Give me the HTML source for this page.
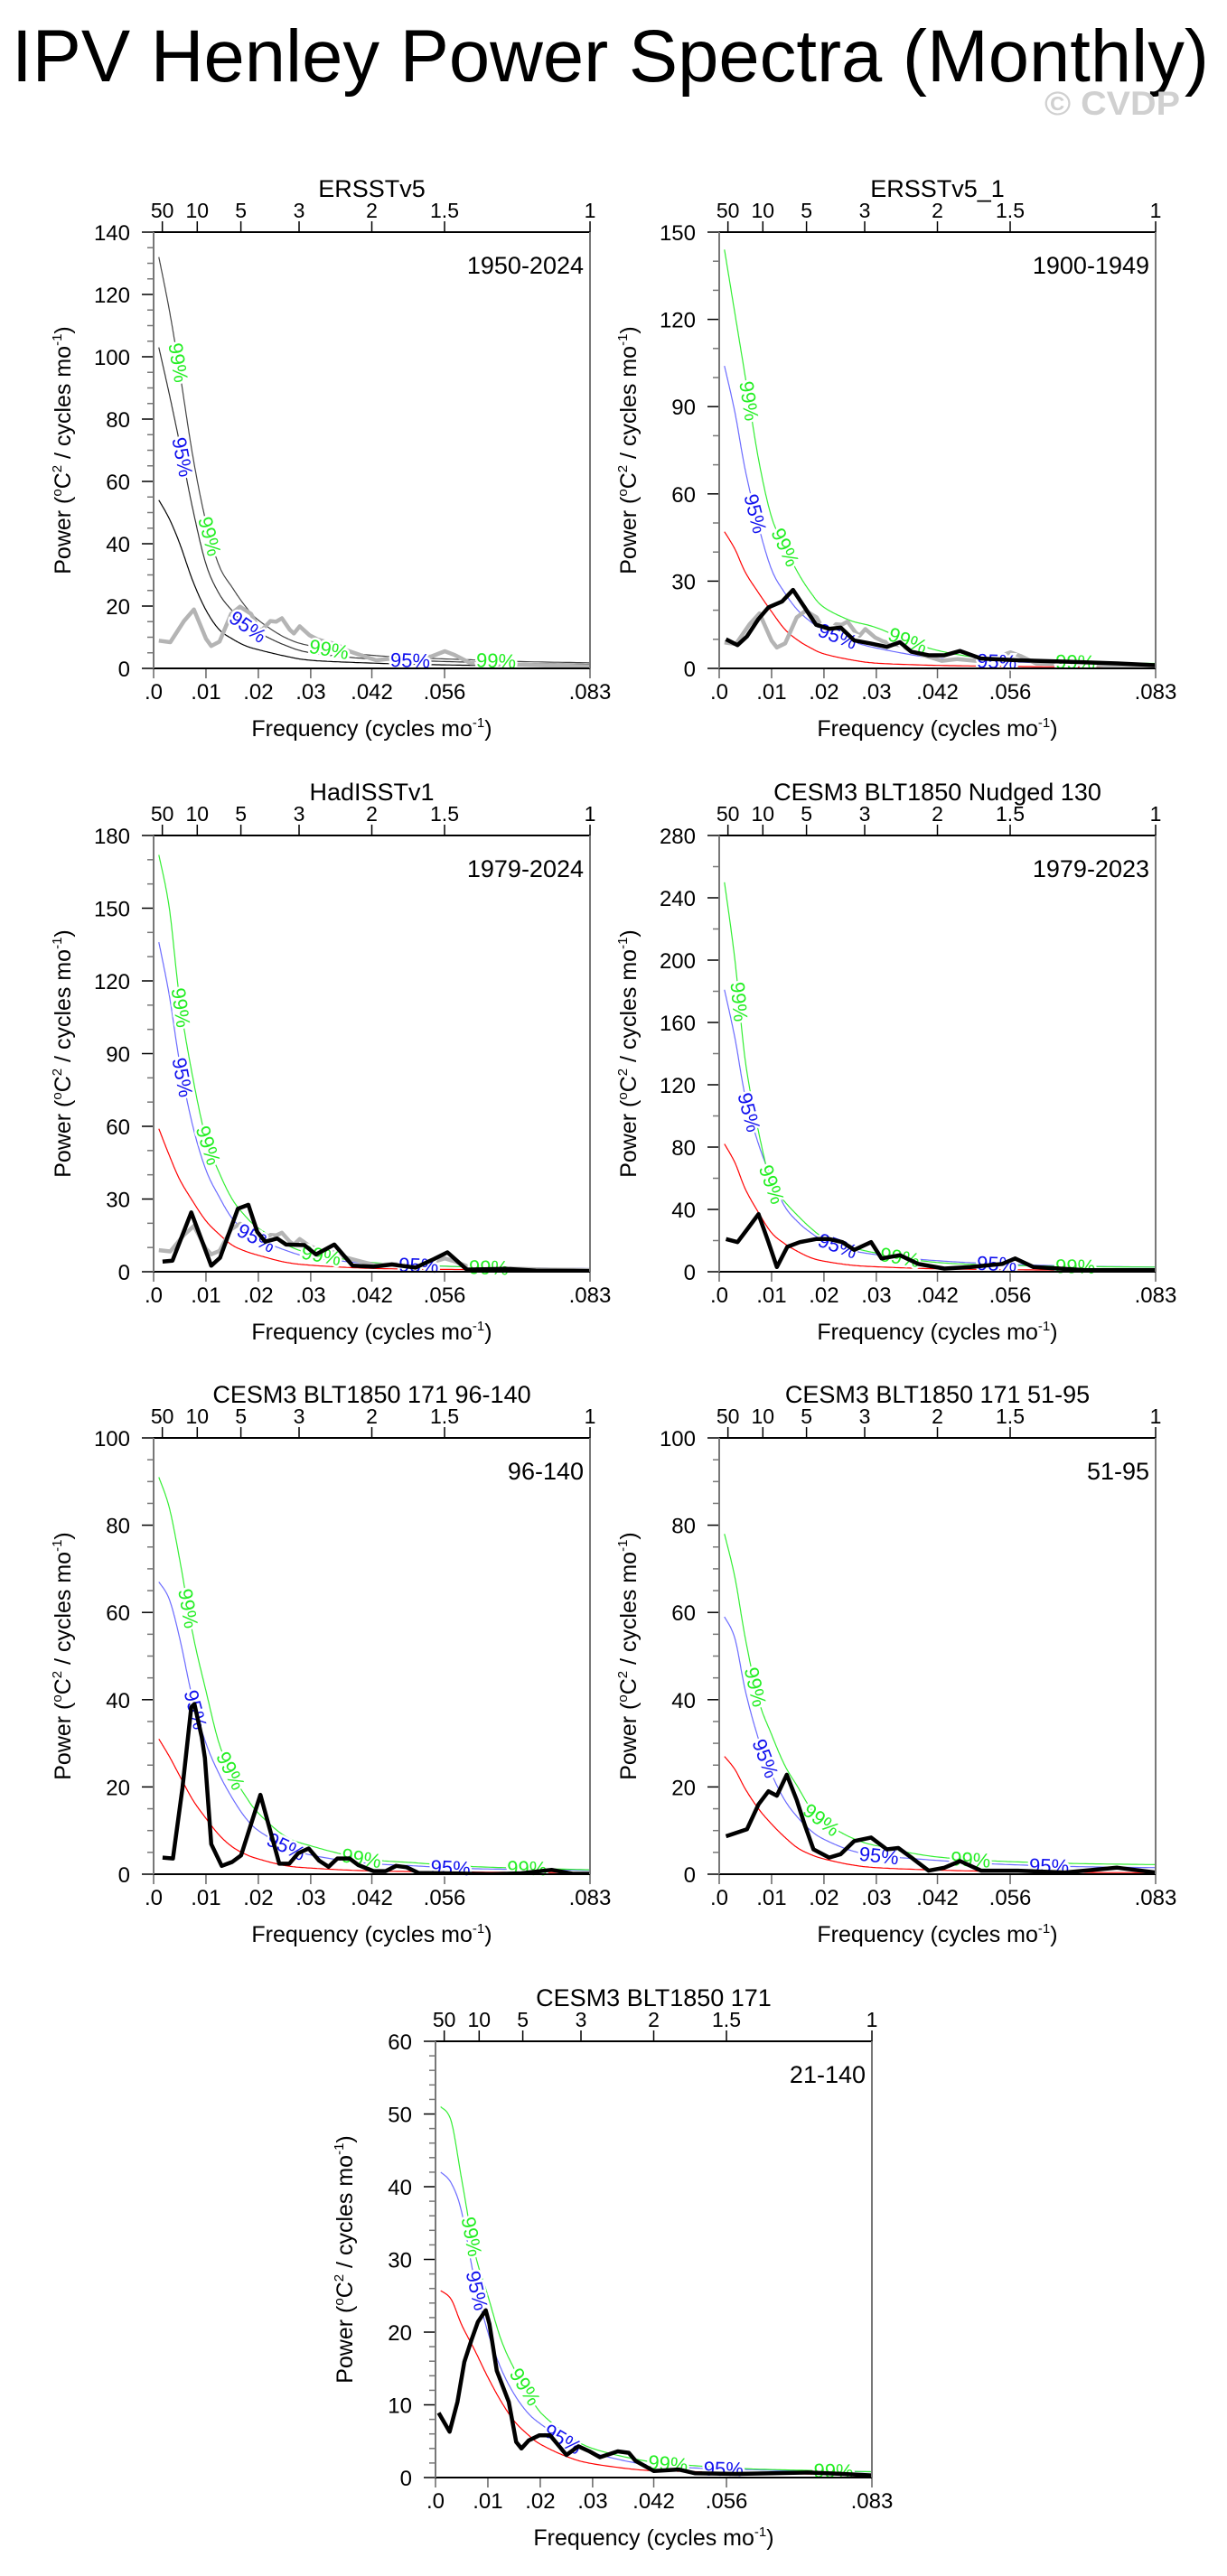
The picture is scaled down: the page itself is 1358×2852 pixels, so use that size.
<!DOCTYPE html>
<html><head><meta charset="utf-8"><title>IPV Henley Power Spectra (Monthly)</title>
<style>
html,body{margin:0;padding:0;background:#fff;}
svg{display:block;font-family:"Liberation Sans",Arial,sans-serif;}
</style></head>
<body>
<svg id="fig" width="1358" height="2852" viewBox="0 0 1358 2852" xmlns="http://www.w3.org/2000/svg">
<rect x="0" y="0" width="1358" height="2852" fill="#fff"/>
<text x="13" y="90" font-size="82" textLength="1325" lengthAdjust="spacingAndGlyphs" fill="#000">IPV Henley Power Spectra (Monthly)</text>
<text x="1156" y="127" font-size="37" font-weight="bold" fill="#d0d0d0" textLength="150" lengthAdjust="spacingAndGlyphs">© CVDP</text>
</svg>
<script>
// ---- shared frequency grid for red-noise / significance curves (cycles/mo)
const freqGrid = [0.001,0.003,0.005,0.0075,0.01,0.0125,0.015,0.0175,0.02,0.025,0.03,0.04,0.05,0.06,0.07,0.0833];
// ---- bottom / top tick labels
const xTickVals = [0,0.01,0.02,0.03,0.04167,0.05556,0.08333];
const xTickLabels = ['.0','.01','.02','.03','.042','.056','.083'];
const periodYears = [50,10,5,3,2,1.5,1];
const periodLabels = ['50','10','5','3','2','1.5','1'];

// ---- Panel 1 ERSSTv5 1950-2024
const red1 = [54,48,40,28,18.7,12.5,9.5,7.3,6,4,2.6,1.8,1.3,1,0.8,0.6];
const c95_1 = [103,88,72,51,33.5,24,18.5,14,11.5,7.5,5,3.2,2.5,2,1.6,1.3];
const c99_1 = [132,115,95,68,47,33,26,20,15.5,10,7.2,4.5,3.4,2.8,2.2,1.8];
const obsFreq = [0.001,0.0032,0.0058,0.0077,0.01,0.011,0.0126,0.0148,0.0165,0.0186,0.0204,0.0223,0.0234,0.0245,0.026,0.0268,0.0279,0.0298,0.0313,0.0331,0.035,0.0365,0.0395,0.0425,0.0455,0.049,0.053,0.0556,0.0575,0.0605,0.068,0.0755,0.0833];
const obsPow = [8.9,8.4,15.2,18.9,9.5,7.2,8.6,17.5,19.8,17.5,11.8,15.2,15,16.1,12.4,11.2,13.5,10.6,9.3,8.4,7.8,6,4.3,2.6,3.2,2.6,3.8,5.5,4.3,1.7,1.3,0.9,0.7];

// ---- Panel 2 ERSSTv5_1 1900-1949
const red2 = [47,41,33,26,19.5,13.5,9.7,7,5,3,1.8,1.1,0.8,0.6,0.5,0.4];
const c95_2 = [104,88,68,49,34,26,20,16,13,9.5,7,3.8,2.6,2.0,1.6,1.3];
const c99_2 = [144,122,100,72,52,42,33,26,21,16.5,14,7,3.6,2.6,2.1,1.7];
const spec2F = [0.0013,0.0035,0.0053,0.0075,0.0094,0.012,0.0141,0.0163,0.0185,0.021,0.0232,0.0258,0.029,0.032,0.0345,0.0367,0.04,0.043,0.046,0.05,0.057,0.0666,0.076,0.0833];
const spec2P = [10,8,11,17,21,23,27,21,15,13.6,14,9.6,8.5,7.4,9,5.7,4.5,4.5,6,3.4,2.8,2.3,1.7,1.1];

// ---- Panel 3 HadISSTv1 1979-2024
const red3 = [59,48,38,29,21,15.5,11,8.5,6.8,4,2.7,1.5,1.1,0.9,0.7,0.5];
const c95_3 = [136,114,86,60,42,31,22,17,13.5,9,6,3.6,2.7,2,1.6,1.3];
const c99_3 = [172,150,112,80,55,41,30,23,18,11.5,7.6,4.2,2.8,2,1.4,1.0];
const spec3F = [0.0017,0.0036,0.0072,0.011,0.0127,0.0161,0.0181,0.0198,0.0213,0.0236,0.0253,0.0288,0.031,0.0345,0.038,0.042,0.0455,0.05,0.0535,0.0561,0.0598,0.0673,0.073,0.0833];
const spec3P = [4.2,4.6,24.5,2.5,5.8,26,27.6,16.4,12.4,13.7,11.2,11,7.1,11.2,2.5,2.1,3,1.7,5.2,8,0.9,1.2,0.5,0.3];

// ---- Panel 4 CESM3 BLT1850 Nudged 130
const red4 = [82,70,53,38,25,18,13,9,6.8,4.3,3.2,2,1.5,1.2,1,0.8];
const c95_4 = [181,150,112,82,60,42,32,25,20,14,11,7.5,5.5,4.3,3.5,3];
const c99_4 = [250,200,135,90,56,45,36,28,22,16,12,6.5,4.5,3.8,3.3,3];
const spec4F = [0.0013,0.0035,0.0053,0.0075,0.0094,0.011,0.013,0.0154,0.0185,0.021,0.0235,0.0258,0.029,0.031,0.0345,0.038,0.043,0.048,0.054,0.0565,0.06,0.07,0.0833];
const spec4P = [21,19,27,37,19,3,16,19,21,21,19,14,19,8.5,10.6,5,2,3,5,8.5,3,1,1];

// ---- Panel 5 CESM3 BLT1850 171 96-140
const red5 = [31,27,22.5,17,12.8,9,6.3,4.6,3.5,2,1.4,0.8,0.6,0.5,0.4,0.35];
const c95_5 = [67,63,54,40,30,23,17.5,13,10,6.5,4.4,2.6,1.9,1.3,1.1,0.9];
const c99_5 = [91,84,72,55,42,30,23,18,14,8.8,6.5,3.6,2.6,1.8,1.4,1.0];
const spec5F = [0.0017,0.0037,0.0055,0.0072,0.0078,0.0092,0.0098,0.011,0.013,0.015,0.0167,0.0204,0.024,0.0259,0.0276,0.0296,0.0316,0.0334,0.0351,0.0374,0.0391,0.042,0.0443,0.0463,0.0483,0.0506,0.0558,0.0644,0.0702,0.076,0.08,0.0833];
const spec5P = [3.8,3.6,19.7,38.3,39,31.4,26.6,6.9,1.9,2.8,4.3,18.2,2.4,2.4,4.8,5.9,3.1,1.7,3.6,3.6,2.1,0.7,0.7,1.9,1.6,0.3,0.2,0,0.2,1,0.1,0.1];

// ---- Panel 6 CESM3 BLT1850 171 51-95
const red6 = [27,24,19.5,15,11.5,8.5,6,4.5,3.5,2.2,1.5,1,0.7,0.5,0.4,0.35];
const c95_6 = [59,54,42,31,23,17,13,10,8,5.5,4.3,3.3,2.5,2,1.7,1.5];
const c99_6 = [78,68,54,40,32,25,20,15,12,8.5,6.5,4.2,3.2,2.7,2.4,2.2];
const spec6F = [0.0013,0.0053,0.0075,0.0094,0.011,0.0129,0.0148,0.0163,0.018,0.021,0.0232,0.0258,0.029,0.032,0.0342,0.0367,0.04,0.043,0.046,0.05,0.057,0.066,0.076,0.0833];
const spec6P = [8.7,10.3,16,19,18,22.8,17,11.4,5.7,3.8,4.6,7.6,8.4,5.7,6,3.8,0.8,1.5,3,0.8,0.8,0.4,1.5,0.4];

// ---- Panel 7 CESM3 BLT1850 171 21-140
const red7 = [25.7,24.5,21,17.5,13.8,10.5,7.8,6,4.6,2.9,1.9,1,0.8,0.6,0.5,0.4];
const c95_7 = [42,40.5,36.5,27,20,15,11.5,9,7.4,5,3.4,1.8,1.3,1.1,0.9,0.8];
const c99_7 = [51,49,41,31,25,19,15,12,9,6,4,2.3,1.6,1.2,1,0.8];
const spec7F = [0.0006,0.0027,0.0042,0.0055,0.0069,0.0081,0.0096,0.0103,0.0117,0.014,0.0154,0.0164,0.0178,0.0198,0.0219,0.025,0.0273,0.0294,0.0314,0.0331,0.0348,0.0369,0.0382,0.0417,0.0464,0.0495,0.0574,0.0642,0.071,0.0778,0.0833];
const spec7P = [8.9,6.3,10.4,15.9,19,21.4,23,21.1,14.7,10.4,4.9,4,5.1,5.8,5.8,3.1,4.3,3.6,2.8,3.2,3.6,3.4,2.3,0.9,1.1,0.6,0.5,0.6,0.7,0.5,0.3];

// ---- significance label frequencies: [99,95,99,95,99,95,99]
const labF1 = [0.0047,0.0055,0.0107,0.018,0.0335,0.049,0.0654];
const labF2 = [0.0057,0.0069,0.0126,0.0226,0.036,0.053,0.068];
const labF3 = [0.0052,0.0055,0.0104,0.0196,0.032,0.0506,0.064];
const labF4 = [0.0038,0.0057,0.01,0.0226,0.0345,0.053,0.068];
const labF5 = [0.0066,0.008,0.0147,0.0253,0.0397,0.0567,0.0713];
const labF6 = [0.0069,0.0088,0.0195,0.0305,0.048,0.063];
const labF7 = [0.0069,0.0079,0.0171,0.0243,0.0444,0.055,0.076];

const NS = 'http://www.w3.org/2000/svg';
const svg = document.getElementById('fig');
const W = 483, H = 483, XMAX = 0.08333;

const panels = [
 {x:170,y:257,ymax:140,ystep:20,yminor:5,title:'ERSSTv5',period:'1950-2024',red:red1,c95:c95_1,c99:c99_1,gray:true,sf:null,sp:null,lab:labF1,mono:true},
 {x:796,y:257,ymax:150,ystep:30,yminor:10,title:'ERSSTv5_1',period:'1900-1949',red:red2,c95:c95_2,c99:c99_2,gray:true,sf:spec2F,sp:spec2P,lab:labF2},
 {x:170,y:925,ymax:180,ystep:30,yminor:10,title:'HadISSTv1',period:'1979-2024',red:red3,c95:c95_3,c99:c99_3,gray:true,sf:spec3F,sp:spec3P,lab:labF3},
 {x:796,y:925,ymax:280,ystep:40,yminor:20,title:'CESM3 BLT1850 Nudged 130',period:'1979-2023',red:red4,c95:c95_4,c99:c99_4,gray:false,sf:spec4F,sp:spec4P,lab:labF4},
 {x:170,y:1592,ymax:100,ystep:20,yminor:5,title:'CESM3 BLT1850 171 96-140',period:'96-140',red:red5,c95:c95_5,c99:c99_5,gray:false,sf:spec5F,sp:spec5P,lab:labF5},
 {x:796,y:1592,ymax:100,ystep:20,yminor:5,title:'CESM3 BLT1850 171 51-95',period:'51-95',red:red6,c95:c95_6,c99:c99_6,gray:false,sf:spec6F,sp:spec6P,lab:labF6},
 {x:482,y:2260,ymax:60,ystep:10,yminor:2,title:'CESM3 BLT1850 171',period:'21-140',red:red7,c95:c95_7,c99:c99_7,gray:false,sf:spec7F,sp:spec7P,lab:labF7}
];

function mk(tag, attrs, parent){
  const e = document.createElementNS(NS, tag);
  for (const k in attrs) e.setAttribute(k, attrs[k]);
  (parent||svg).appendChild(e);
  return e;
}

function catmull(pts){
  const out = [];
  for (let i=0;i<pts.length-1;i++){
    const p0=pts[Math.max(0,i-1)], p1=pts[i], p2=pts[i+1], p3=pts[Math.min(pts.length-1,i+2)];
    for (let s=0;s<20;s++){
      const t=s/20, t2=t*t, t3=t2*t;
      const x=0.5*((2*p1[0])+(-p0[0]+p2[0])*t+(2*p0[0]-5*p1[0]+4*p2[0]-p3[0])*t2+(-p0[0]+3*p1[0]-3*p2[0]+p3[0])*t3);
      const y=0.5*((2*p1[1])+(-p0[1]+p2[1])*t+(2*p0[1]-5*p1[1]+4*p2[1]-p3[1])*t2+(-p0[1]+3*p1[1]-3*p2[1]+p3[1])*t3);
      out.push([x,y]);
    }
  }
  out.push(pts[pts.length-1]);
  return out;
}
function pathOf(pts){ return 'M'+pts.map(p=>p[0].toFixed(1)+','+p[1].toFixed(1)).join('L'); }

panels.forEach((P, pi) => {
  const g = mk('g', {});
  
  
  const sx = f => P.x + f / XMAX * W;
  const sy = v => P.y + H - v / P.ymax * H;
  const clip = 'clip' + pi;
  const cp = mk('clipPath', {id: clip}, g);
  mk('rect', {x:P.x, y:P.y, width:W, height:H}, cp);

  // title
  const t = mk('text', {x:P.x+W/2, y:P.y-39, 'font-size':27, 'text-anchor':'middle', fill:'#000'}, g);
  
  
  t.textContent = P.title;
  // period label
  const pl = mk('text', {x:P.x+W-7, y:P.y+46, 'font-size':27, 'text-anchor':'end', fill:'#000'}, g);
  
  
  pl.textContent = P.period;

  // y ticks
  for (let v=0; v<=P.ymax+1e-9; v+=P.yminor){
    const major = Math.abs(v/P.ystep - Math.round(v/P.ystep))<1e-6;
    const tk = mk('line', {x1:P.x-(major?13:7), x2:P.x, y1:sy(v), y2:sy(v), stroke:major?'#000':'#777', 'stroke-width':1.5}, g);
    
    
    if (major){
      const tl = mk('text', {x:P.x-26, y:sy(v)+9, 'font-size':24, 'text-anchor':'end', fill:'#000'}, g);
      
      
      tl.textContent = String(Math.round(v));
    }
  }
  // bottom ticks
  xTickVals.forEach((f,i) => {
    const tk = mk('line', {x1:sx(f), x2:sx(f), y1:P.y+H, y2:P.y+H+11, stroke:'#666', 'stroke-width':1.5}, g);
    
    
    const tl = mk('text', {x:sx(f), y:P.y+H+34, 'font-size':24, 'text-anchor':'middle', fill:'#000'}, g);
    
    
    tl.textContent = xTickLabels[i];
  });
  // top period ticks
  periodYears.forEach((yr,i) => {
    const f = 1/(yr*12);
    const tk = mk('line', {x1:sx(f), x2:sx(f), y1:P.y, y2:P.y-12, stroke:'#000', 'stroke-width':1.5}, g);
    
    
    const tl = mk('text', {x:sx(f), y:P.y-16, 'font-size':23, 'text-anchor':'middle', fill:'#000'}, g);
    
    
    tl.textContent = periodLabels[i];
  });
  // x-axis title
  const xt = mk('text', {x:P.x+W/2, y:P.y+H+75, 'font-size':25, 'text-anchor':'middle', fill:'#000'}, g);
  
  
  xt.innerHTML = 'Frequency (cycles mo<tspan font-size="15" dy="-10">-1</tspan><tspan dy="10">)</tspan>';
  // y-axis title
  const yx = P.x-92, yy = P.y+H/2;
  const yt = mk('text', {x:yx, y:yy, 'font-size':25, 'text-anchor':'middle', fill:'#000', transform:'rotate(-90 '+yx+' '+yy+')'}, g);
  
  
  yt.innerHTML = 'Power (<tspan font-size="15" dy="-10">o</tspan><tspan dy="10">C</tspan><tspan font-size="15" dy="-10">2</tspan><tspan dy="10"> / cycles mo</tspan><tspan font-size="15" dy="-10">-1</tspan><tspan dy="10">)</tspan>';

  const cg = mk('g', {'clip-path':'url(#'+clip+')'}, g);
  const curves = [
    {arr:P.red, col:P.mono?'#000':'#ff0000', name:'red-noise-curve'},
    {arr:P.c95, col:P.mono?'#333':'#6b6bff', name:'ci95-curve'},
    {arr:P.c99, col:P.mono?'#444':'#33ee33', name:'ci99-curve'}
  ];
  const samples = {};
  curves.forEach(c => {
    const pts = catmull(freqGrid.map((f,i)=>[sx(f), sy(c.arr[i])]));
    samples[c.name] = pts;
    const p = mk('path', {d:pathOf(pts), fill:'none', stroke:c.col, 'stroke-width':1.2}, cg);
    
    
  });
  if (P.gray){
    const p = mk('path', {d:pathOf(obsFreq.map((f,i)=>[sx(f), sy(obsPow[i])])), fill:'none', stroke:'#b4b4b4', 'stroke-width':4.5, 'stroke-linejoin':'round'}, cg);
    
    
  }
  P.lab.forEach((f,i) => {
    const is99 = i%2===0;
    const pts = samples[is99?'ci99-curve':'ci95-curve'];
    const X = sx(f);
    let k = 1;
    while (k < pts.length-1 && pts[k][0] < X) k++;
    const a = pts[k-1], b = pts[k];
    const tt = (b[0]-a[0])>0 ? (X-a[0])/(b[0]-a[0]) : 0;
    const Y = a[1] + (b[1]-a[1])*tt;
    let ang = Math.atan2(b[1]-a[1], b[0]-a[0]) * 180/Math.PI;
    const lt = mk('text', {x:X, y:Y, 'font-size':22, 'text-anchor':'middle', 'dominant-baseline':'central', fill:is99?'#22ee22':'#1010ee', stroke:'#fff', 'stroke-width':5, 'paint-order':'stroke', transform:'rotate('+ang.toFixed(1)+' '+X.toFixed(1)+' '+Y.toFixed(1)+')'}, g);
    
    
    lt.textContent = is99 ? '99%' : '95%';
  });
  if (P.sf){
    const p = mk('path', {d:pathOf(P.sf.map((f,i)=>[sx(f), sy(P.sp[i])])), fill:'none', stroke:'#000', 'stroke-width':4.5, 'stroke-linejoin':'round'}, mk('g', {'clip-path':'url(#'+clip+')'}, g));
    
    
  }
  const fr = [
    [P.x,P.y,P.x+W,P.y,'#000','frame-top'],
    [P.x,P.y+H,P.x+W,P.y+H,'#000','frame-bottom'],
    [P.x,P.y,P.x,P.y+H,'#777','frame-left'],
    [P.x+W,P.y,P.x+W,P.y+H,'#777','frame-right']
  ];
  fr.forEach(l => {
    const e = mk('line', {x1:l[0], y1:l[1], x2:l[2], y2:l[3], stroke:l[4], 'stroke-width':2}, g);
    
    
  });
});
</script>
</body></html>
